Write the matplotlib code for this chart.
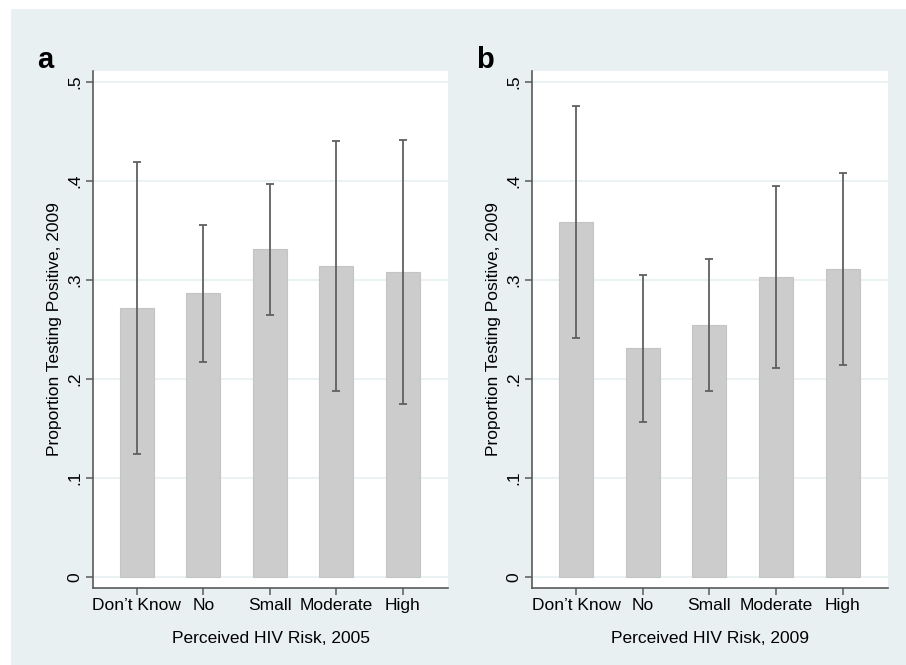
import matplotlib
matplotlib.use("Agg")
import matplotlib.pyplot as plt
import numpy as np

plt.rcParams['font.family'] = ['Liberation Sans', 'DejaVu Sans']

categories = ["Don\u2019t Know", "No", "Small", "Moderate", "High"]

# Panel a: perceived risk 2005
a_mean = [0.272, 0.287, 0.331, 0.314, 0.308]
a_low = [0.124, 0.217, 0.265, 0.188, 0.175]
a_high = [0.419, 0.355, 0.397, 0.440, 0.441]

# Panel b: perceived risk 2009
b_mean = [0.359, 0.231, 0.254, 0.303, 0.311]
b_low = [0.241, 0.157, 0.188, 0.211, 0.214]
b_high = [0.476, 0.305, 0.321, 0.395, 0.408]

yticks = [0, 0.1, 0.2, 0.3, 0.4, 0.5]
yticklabels = ["0", ".1", ".2", ".3", ".4", ".5"]

W, H = 906, 665
fig = plt.figure(figsize=(W / 100, H / 100), dpi=100)
fig.patch.set_facecolor("white")
bg = fig.add_axes([11 / W, 0, 1 - 11 / W, 1 - 9 / H], zorder=-10)
bg.set_facecolor("#e9f0f2")
bg.set_xticks([])
bg.set_yticks([])
for s in bg.spines.values():
    s.set_visible(False)

FS = 12.5

def panel(left, right, mean, low, high, xlabel, letter):
    ax = fig.add_axes([left / W, 1 - 588 / H, (right - left) / W, (588 - 71) / H], zorder=1)
    ax.set_facecolor("white")
    x = np.arange(1, len(categories) + 1)
    mean = np.array(mean)
    err = np.array([mean - np.array(low), np.array(high) - mean])
    ax.bar(x, mean, width=0.51, color="#cccccc", edgecolor="#c4c4c4", linewidth=0.8, zorder=2)
    ax.errorbar(x, mean, yerr=err, fmt="none", ecolor="#606060", elinewidth=1.3,
                capsize=3.2, capthick=1.3, zorder=3)
    ax.set_xlim(0.34, 5.68)
    ax.set_ylim(-0.0111, 0.511)
    ax.set_yticks(yticks)
    ax.set_yticklabels(yticklabels, rotation=90, va="center", fontsize=FS)
    ax.set_xticks(x)
    ax.set_xticklabels(categories, fontsize=FS)
    ax.yaxis.grid(True, color="#e8f0f2", linewidth=1.2, zorder=1)
    ax.set_axisbelow(True)
    for s in ["top", "right"]:
        ax.spines[s].set_visible(False)
    for s in ["left", "bottom"]:
        ax.spines[s].set_color("#5a5a5a")
        ax.spines[s].set_linewidth(1.2)
    ax.tick_params(axis="both", direction="out", length=5, width=1.1, color="#5a5a5a",
                   labelcolor="black", pad=2.5)
    ax.set_ylabel("Proportion Testing Positive, 2009", fontsize=FS, labelpad=4)
    ax.set_xlabel(xlabel, fontsize=FS, labelpad=13)
    fig.text((left - 56) / W, 1 - 60 / H, letter, fontsize=21, fontweight="bold",
             ha="left", va="center")
    return ax

panel(93, 448, a_mean, a_low, a_high, "Perceived HIV Risk, 2005", "a")
panel(532, 888, b_mean, b_low, b_high, "Perceived HIV Risk, 2009", "b")

fig.savefig("out.png", dpi=100)
